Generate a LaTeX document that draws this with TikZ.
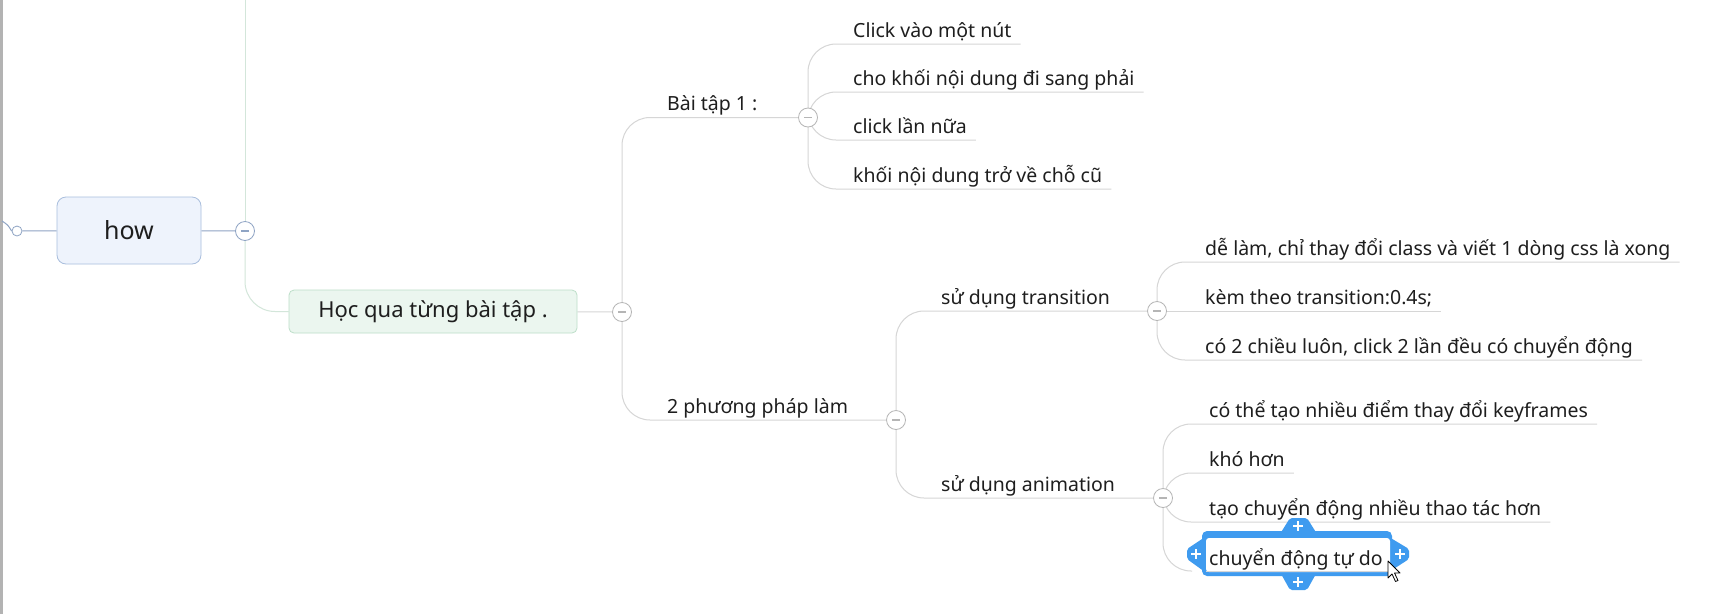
\documentclass[tikz,border=0pt]{standalone}
\usepackage{fontspec}
\setmainfont{Noto Sans}
\usepackage{tikz}
\usetikzlibrary{positioning, backgrounds}
\definecolor{howfill}{HTML}{EEF3FC}
\definecolor{howline}{HTML}{A9BEDD}
\definecolor{howlink}{HTML}{8FA4C4}
\definecolor{hocfill}{HTML}{EBF6EF}
\definecolor{hocline}{HTML}{BDDFC9}
\definecolor{trunk}{HTML}{D3E6DA}
\definecolor{linegray}{HTML}{D6D6D6}
\definecolor{foldgray}{HTML}{B5B5B5}
\definecolor{selblue}{HTML}{3F9BEF}
\definecolor{txt}{HTML}{1E1E1E}
\definecolor{edgegray}{HTML}{B3B3B3}

\begin{document}
\begin{tikzpicture}[x=1pt, y=-1pt, text=txt,
  main node/.style={draw=howline, fill=howfill, line width=0.8pt, rounded corners=9pt,
    minimum width=144pt, minimum height=67pt, font=\fontsize{25}{30}\selectfont},
  topic node/.style={draw=hocline, fill=hocfill, line width=0.8pt, rounded corners=5pt,
    minimum width=288pt, minimum height=43pt, font=\fontsize{22}{26}\selectfont},
  leaf node/.style={anchor=base west, inner sep=0pt, font=\fontsize{19.5}{23}\selectfont},
  fold node/.style={circle, draw=#1, fill=white, line width=0.8pt, minimum size=19pt, inner sep=0pt,
    path picture={\draw[#1, line width=1.3pt] ([xshift=-4pt]path picture bounding box.center)
      -- ([xshift=4pt]path picture bounding box.center);}},
  fold node/.default=foldgray,
  branch line/.style={draw=linegray, line width=1pt, rounded corners=28pt}]

\useasboundingbox (0,0) rectangle (1735,614);

\node[main node] (how) at (129,230.5) {how};
\node[circle, draw=howlink, fill=white, line width=0.8pt, minimum size=10pt, inner sep=0pt] (howin) at (17,231) {};
\node[fold node=howlink] (howf) at (245,231) {};
\node[topic node] (hoc) at (433,311.5) {Học qua từng bài tập .};
\node[fold node] (hocf) at (622,312) {};

\node[leaf node] (bai) at (667,110.5) {Bài tập 1 :};
\node[fold node] (baif) at (808,117.5) {};
\node[leaf node] (b1) at (853,37) {Click vào một nút};
\node[leaf node] (b2) at (853,85) {cho khối nội dung đi sang phải};
\node[leaf node] (b3) at (853,133) {click lần nữa};
\node[leaf node] (b4) at (853,182) {khối nội dung trở về chỗ cũ};

\node[leaf node] (pp) at (667,413) {2 phương pháp làm};
\node[fold node] (ppf) at (896,420) {};

\node[leaf node] (tr) at (941,304) {sử dụng transition};
\node[fold node] (trf) at (1157,311) {};
\node[leaf node] (t1) at (1205,255) {dễ làm, chỉ thay đổi class và viết 1 dòng css là xong};
\node[leaf node] (t2) at (1205,304) {kèm theo transition:0.4s;};
\node[leaf node] (t3) at (1205,353) {có 2 chiều luôn, click 2 lần đều có chuyển động};

\node[leaf node] (an) at (941,491) {sử dụng animation};
\node[fold node] (anf) at (1163,498) {};
\node[leaf node] (a1) at (1209,417) {có thể tạo nhiều điểm thay đổi keyframes};
\node[leaf node] (a2) at (1209,466) {khó hơn};
\node[leaf node] (a3) at (1209,515) {tạo chuyển động nhiều thao tác hơn};

\fill[selblue, rounded corners=2pt] (1280,534) -- (1290,518) -- (1307,518) -- (1317,534) -- cycle;
\fill[selblue, rounded corners=2pt] (1280,572) -- (1290,590) -- (1307,590) -- (1317,572) -- cycle;
\fill[selblue, rounded corners=2pt] (1205,537) -- (1187,549) -- (1187,559) -- (1205,572) -- cycle;
\fill[selblue, rounded corners=2pt] (1389,537) -- (1409,549) -- (1409,559) -- (1389,572) -- cycle;
\fill[selblue, rounded corners=5pt] (1202,531) rectangle (1392,576);
\fill[white, rounded corners=3pt] (1206,538) rectangle (1390,572);
\foreach \px/\py in {1298/526, 1298/582, 1196/554, 1400/554}
  \draw[white, line width=2.6pt] (\px-5,\py) -- (\px+5,\py) (\px,\py-5) -- (\px,\py+5);
\node[leaf node] (a4) at (1209,565) {chuyển động tự do};
\draw[linegray, line width=1pt] (1206,571) -- (1390,571);

\begin{scope}[on background layer]
\fill[white] (0,0) rectangle (1735,614);
\fill[edgegray] (0,0) rectangle (2.5,614);
\draw[howlink, line width=1pt] (2,221) .. controls (8,225) .. (howin.west);
\draw[howlink, line width=1pt] (howin) -- (how) -- (howf);
\draw[trunk, line width=1pt] (245,0) -- (howf.center);
\draw[trunk, line width=1pt, rounded corners=30pt] (howf.center) |- (hoc.west);
\draw[branch line] (hoc) -- (hocf);
\draw[branch line] (hocf.center) |- (baif.center);
\draw[branch line] (hocf.center) |- (ppf.center);
\foreach \c in {b1,b2,b3,b4}
  \draw[branch line] (baif.center) |- ([shift={(9pt,-7pt)}]\c.base east);
\draw[branch line] (ppf.center) |- (trf.center);
\draw[branch line] (ppf.center) |- (anf.center);
\foreach \c in {t1,t3}
  \draw[branch line] (trf.center) |- ([shift={(9pt,-7pt)}]\c.base east);
\draw[branch line] (trf.center) -- ([shift={(9pt,-7pt)}]t2.base east);
\foreach \c in {a1,a2,a3}
  \draw[branch line] (anf.center) |- ([shift={(9pt,-7pt)}]\c.base east);
\draw[branch line] (anf.center) |- (1192,571);
\end{scope}

\draw[black, fill=white, line width=0.8pt, line join=round] (1388,561) -- ++(0,17) -- ++(4,-4)
  -- ++(3.5,7.5) -- ++(2.5,-1) -- ++(-3.5,-7.5) -- ++(5.5,0) -- cycle;
\end{tikzpicture}
\end{document}
